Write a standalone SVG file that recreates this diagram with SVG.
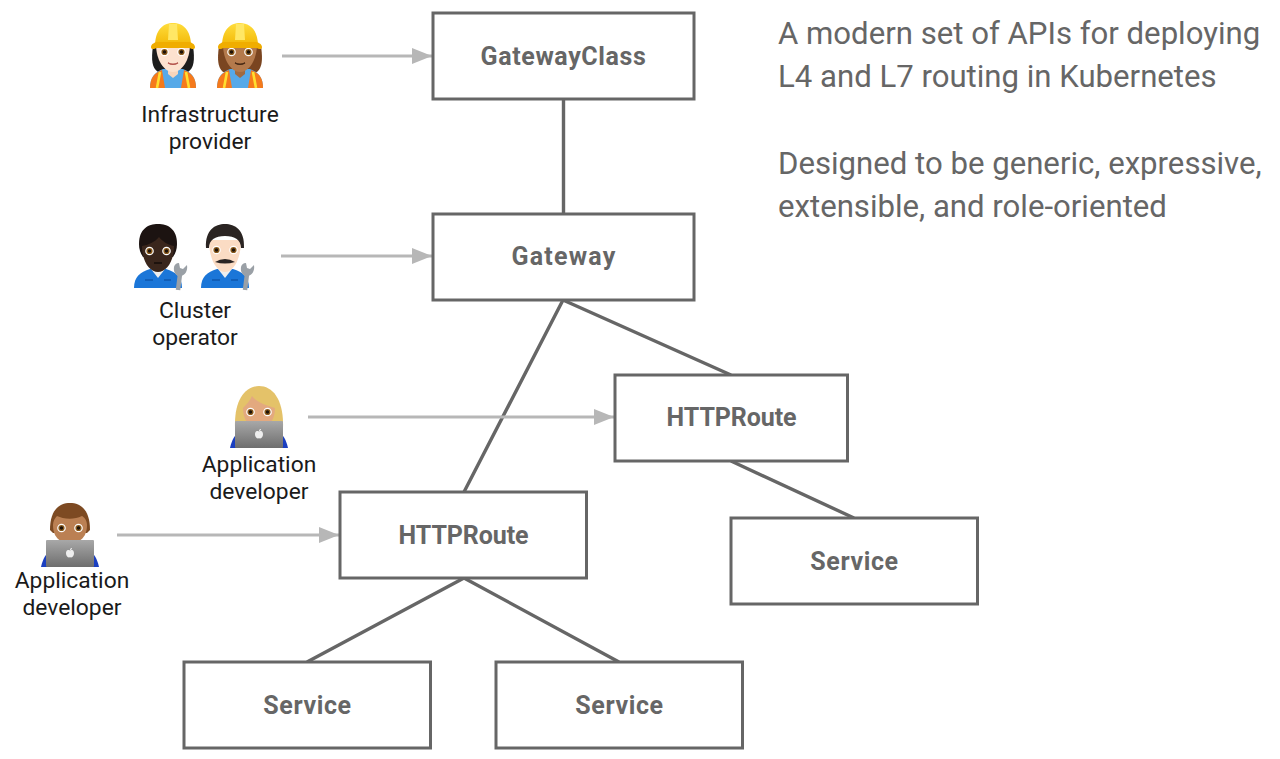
<svg xmlns="http://www.w3.org/2000/svg" xmlns:xlink="http://www.w3.org/1999/xlink" width="1280" height="759" viewBox="0 0 1280 759">
<style>
.box{fill:#fff;stroke:#666;stroke-width:3}
.lbl{font:700 25px Roboto,"Liberation Sans",sans-serif;fill:#666;text-anchor:middle;letter-spacing:.6px}
.tight{letter-spacing:-.1px}
.wide{letter-spacing:1.2px}
.cap{font:400 22.8px Roboto,"Liberation Sans",sans-serif;fill:#1a1a1a;text-anchor:middle}
.side{font:400 31.15px Roboto,"Liberation Sans",sans-serif;fill:#666}
.dark{fill:none;stroke:#666;stroke-width:3.4}
.gray{fill:none;stroke:#b7b7b7;stroke-width:3.2;marker-end:url(#arr)}
</style>
<defs>
<marker id="arr" markerUnits="userSpaceOnUse" markerWidth="22" markerHeight="18" refX="20" refY="8" orient="auto"><path d="M0 0L20 8L0 16z" fill="#b7b7b7"/></marker>
<linearGradient id="hat" x1="0" y1="0" x2="0" y2="1"><stop offset="0" stop-color="#ffdd3c"/><stop offset="1" stop-color="#f2b705"/></linearGradient>
<linearGradient id="lap" x1="0" y1="0" x2="0" y2="1"><stop offset="0" stop-color="#a8a8a8"/><stop offset="1" stop-color="#6e6e6e"/></linearGradient>
<g id="vest">
<path d="M-23 66C-23 55-18 50-10 47H10C18 50 23 55 23 66Z" fill="#56a9e8"/>
<path d="M-23 66C-23 56-19 51-11 48L-8 66Z" fill="#f57a1c"/><path d="M23 66C23 56 19 51 11 48L8 66Z" fill="#f57a1c"/>
<path d="M-16 66L-13 50M16 66L13 50" stroke="#ffdf30" stroke-width="2.6" fill="none"/>
</g>
<g id="hardhat">
<path d="M-18 24C-18 8-10 1 0 1S18 8 18 24Z" fill="url(#hat)"/>
<path d="M-4 2H4L5 18H-5Z" fill="#ffe765"/>
<path d="M-22 25C-22 22-18 20-15 20H15C18 20 22 22 22 25C22 28 19 27 16 26H-16C-19 27-22 28-22 25Z" fill="#f0ad00"/>
</g>
<g id="eyes"><circle cx="-8.500" r="4.300" fill="#fff"/><circle cx="8.500" r="4.300" fill="#fff"/><circle cx="-8.500" r="3.100" fill="#8a5a1c"/><circle cx="8.500" r="3.100" fill="#8a5a1c"/><circle cx="-8.500" r="1.700" fill="#1c120a"/><circle cx="8.500" r="1.700" fill="#1c120a"/></g>
<g id="wrench"><path d="M20 66L22 50" stroke="#9aa0a6" stroke-width="4.500" fill="none"/><path d="M16 43C15 49 19 53 23 52C27 51 30 47 29 41L25 45L22 44L21 39C18 39 16.500 41 16 43Z" fill="#9aa0a6"/></g>
<g id="mech">
<path d="M-24 64C-24 53-18 48-8 45H8C18 48 24 53 24 64Z" fill="#1b76d8"/>
<path d="M-7 45L0 54L7 45Z" fill="#eee"/>
<path d="M-13 56H-5M6 56H13" stroke="#0f57ac" stroke-width="1.500"/>
</g>
<g id="laptop">
<path d="M-29 62C-27 53-24 49-20 46H20C24 49 27 53 29 62Z" fill="#1b3fc0"/>
<rect x="-24" y="35" width="48" height="27" rx="1" fill="url(#lap)"/>
<path d="M0 45.500C-3.500 44-4 47-4 48.500C-4 51-2 53 0 52.300C2 53 4 51 4 48.500C4 47 3.500 44 0 45.500ZM0 45C0 43.500 1 43 2 43C2 44.500 1 45 0 45Z" fill="#eee"/>
</g>
</defs>
<rect width="1280" height="759" fill="#fff"/>
<g id="connectors">
<path class="dark" d="M563.500 99V213M563 300L464 492M563 300L731 375M731 461L854 518M464 578L307 662M464 578L619 662"/>
<path class="gray" d="M282 56H432"/>
<path class="gray" d="M281 256H432"/>
<path class="gray" d="M308 417H614"/>
<path class="gray" d="M117 535H339"/>
</g>
<g id="gatewayclass"><rect class="box" x="433" y="13" width="261" height="86"/><text class="lbl" x="563.500" y="65">GatewayClass</text></g>
<g id="gateway"><rect class="box" x="433" y="214" width="261" height="86"/><text class="lbl wide" x="564" y="265">Gateway</text></g>
<g id="httproute-right"><rect class="box" x="615" y="375" width="232.500" height="86"/><text class="lbl tight" x="731.500" y="426">HTTPRoute</text></g>
<g id="httproute-left"><rect class="box" x="340" y="492" width="246.500" height="86"/><text class="lbl tight" x="463.500" y="544">HTTPRoute</text></g>
<g id="service-right"><rect class="box" x="731" y="518" width="246.500" height="86"/><text class="lbl" x="854.500" y="570">Service</text></g>
<g id="service-a"><rect class="box" x="184" y="662" width="246.500" height="86"/><text class="lbl" x="307.500" y="714">Service</text></g>
<g id="service-b"><rect class="box" x="496" y="662" width="246.500" height="86"/><text class="lbl" x="619.500" y="714">Service</text></g>
<g id="infrastructure-provider">
<g transform="translate(173 22)"><path d="M-20 24C-22 38-21 46-15 50H15C21 46 22 38 20 24Z" fill="#1d1d1d"/><use xlink:href="#vest"/><path d="M-5 44H5V52L0 56L-5 52Z" fill="#f8d5bc"/><path d="M-17 22C-17 38-9 50 0 50S17 38 17 22Z" fill="#fde2cf"/><path d="M-5 41Q0 44 5 41Q0 43-5 41Z" stroke="#b5564f" fill="#b5564f" stroke-width="1.200"/><use xlink:href="#eyes" y="30"/><use xlink:href="#hardhat"/></g>
<g transform="translate(240 22)"><path d="M-21 24C-23 38-22 46-17 50H17C22 46 23 38 21 24Z" fill="#7a4520"/><use xlink:href="#vest"/><path d="M-5 44H5V52L0 56L-5 52Z" fill="#a16a40"/><path d="M-17 22C-17 38-9 50 0 50S17 38 17 22Z" fill="#b47a4c"/><path d="M-5 41Q0 44 5 41Q0 43-5 41Z" stroke="#4a2a14" fill="#4a2a14" stroke-width="1.200"/><use xlink:href="#eyes" y="30"/><use xlink:href="#hardhat"/></g>
<text class="cap" x="210" y="122">Infrastructure</text><text class="cap" x="210" y="149">provider</text>
</g>
<g id="cluster-operator">
<g transform="translate(158 224)"><use xlink:href="#mech"/><path d="M-19 20C-19 5-10 0 0 0S19 5 19 20C19 26 17 30 15 33H-15C-17 30-19 26-19 20Z" fill="#1c1311"/><path d="M-16 22C-16 38-8 48 0 48S16 38 16 22C10 21 4 17 1 13C-3 18-10 21-16 22Z" fill="#3a261c"/><path d="M-4 39H4" stroke="#150c08" stroke-width="1.500"/><use xlink:href="#eyes" y="27"/><use xlink:href="#wrench"/></g>
<g transform="translate(225 224)"><use xlink:href="#mech"/><path d="M-16 16C-16 36-8 48 0 48S16 36 16 16Z" fill="#fbdcc4"/><path d="M-19 24C-20 6-10 0 0 0S20 6 19 24L16 24C16 16 10 12 0 12S-16 16-16 24Z" fill="#2a2422"/><path d="M-10 38Q0 32 10 38Q0 41-10 38Z" fill="#2a2422"/><use xlink:href="#eyes" y="26"/><use xlink:href="#wrench"/></g>
<text class="cap" x="195" y="318">Cluster</text><text class="cap" x="195" y="345">operator</text>
</g>
<g id="application-developer-right">
<g transform="translate(259 386)"><path d="M-24 42C-25 14-14 0 0 0S25 14 24 42Z" fill="#e4c269"/><path d="M-16 22C-16 36-8 42 0 42S16 36 16 22C8 20-3 16-7 10C-9 15-13 19-16 22Z" fill="#e3a97f"/><use xlink:href="#eyes" y="26"/><use xlink:href="#laptop"/></g>
<text class="cap" x="259" y="472">Application</text><text class="cap" x="259" y="499">developer</text>
</g>
<g id="application-developer-left">
<g transform="translate(70 503)"><path d="M-20 27C-20 6-10 0 0 0S20 6 20 27L17 30H-17Z" fill="#7d4a22"/><path d="M-17 22C-17 36-8 40 0 40S17 36 17 22C17 17 14 14 12 13C4 17-7 16-13 13C-15 15-17 18-17 22Z" fill="#bb8053"/><use xlink:href="#eyes" y="25"/><use xlink:href="#laptop" y="2"/></g>
<text class="cap" x="72" y="588">Application</text><text class="cap" x="72" y="615">developer</text>
</g>
<g id="description">
<text class="side" x="778" y="44">A modern set of APIs for deploying</text>
<text class="side" x="778" y="87">L4 and L7 routing in Kubernetes</text>
<text class="side" x="778" y="174">Designed to be generic, expressive,</text>
<text class="side" x="778" y="217">extensible, and role-oriented</text>
</g>
</svg>
